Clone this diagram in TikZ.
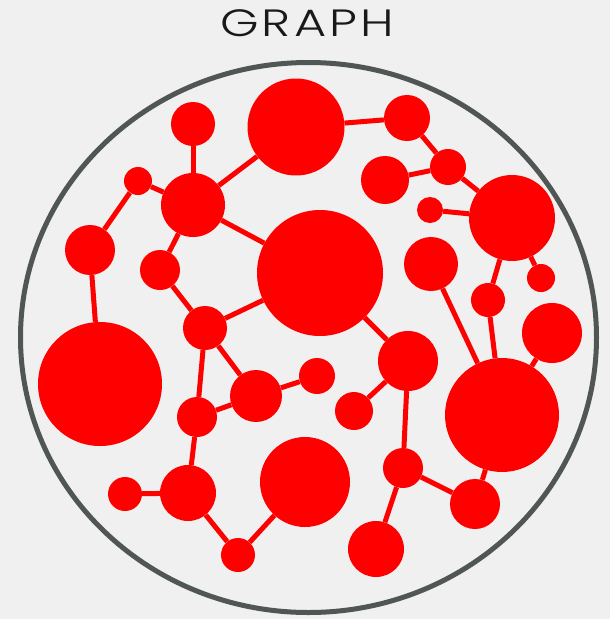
\documentclass[tikz,border=0pt]{standalone}
\usepackage{fontspec}
\newfontfamily\titlefont{Poppins Light}[LetterSpace=8,FakeStretch=1.3]
\definecolor{bg}{HTML}{F0F0F0}
\definecolor{rim}{HTML}{505654}
\definecolor{dotred}{HTML}{FF0000}
\tikzset{
  dot/.style={circle, fill=dotred, draw=none, inner sep=0pt},
  link/.style={draw=dotred, line width=5pt},
}
\begin{document}
\begin{tikzpicture}[x=1pt,y=-1pt]
\fill[bg] (0,0) rectangle (610,619);
\useasboundingbox (0,0) rectangle (610,619);
\node[font=\titlefont\fontsize{38}{40}\selectfont, text=black!90, inner sep=0pt] (title) at (307,23) {GRAPH};
\draw[rim, line width=5pt] (308.5,337.5) ellipse [x radius=288, y radius=275];
% nodes
\node[dot, minimum size=97pt] (n1) at (296,127) {};
\node[dot, minimum size=44pt] (n2) at (193,124) {};
\node[dot, minimum size=28pt] (n3) at (138,181) {};
\node[dot, minimum size=64pt] (n4) at (193,205) {};
\node[dot, minimum size=50pt] (n5) at (90,250) {};
\node[dot, minimum size=40pt] (n6) at (160,270) {};
\node[dot, minimum size=126pt] (n7) at (320,273) {};
\node[dot, minimum size=44pt] (n8) at (205,328) {};
\node[dot, minimum size=124pt] (n9) at (100,384) {};
\node[dot, minimum size=52pt] (n10) at (256,396) {};
\node[dot, minimum size=36pt] (n11) at (317,376) {};
\node[dot, minimum size=40pt] (n12) at (197,417) {};
\node[dot, minimum size=38pt] (n13) at (354,411) {};
\node[dot, minimum size=60pt] (n14) at (408,361) {};
\node[dot, minimum size=46pt] (n15) at (407,118) {};
\node[dot, minimum size=36pt] (n16) at (448,167) {};
\node[dot, minimum size=48pt] (n17) at (385,180) {};
\node[dot, minimum size=26pt] (n18) at (430,210) {};
\node[dot, minimum size=86pt] (n19) at (512,218) {};
\node[dot, minimum size=54pt] (n20) at (431,264) {};
\node[dot, minimum size=28pt] (n21) at (541,278) {};
\node[dot, minimum size=34pt] (n22) at (488,300) {};
\node[dot, minimum size=60pt] (n23) at (552,333) {};
\node[dot, minimum size=114pt] (n24) at (502,415) {};
\node[dot, minimum size=90pt] (n25) at (305,482) {};
\node[dot, minimum size=56pt] (n26) at (188,493) {};
\node[dot, minimum size=34pt] (n27) at (125,494) {};
\node[dot, minimum size=34pt] (n28) at (238,555) {};
\node[dot, minimum size=40pt] (n29) at (403,468) {};
\node[dot, minimum size=56pt] (n30) at (376,549) {};
\node[dot, minimum size=50pt] (n31) at (475,504) {};
% links
\foreach \a/\b in {n2/n4, n3/n4, n3/n5, n4/n1, n4/n6, n4/n7, n5/n9, n6/n8,
  n8/n7, n8/n12, n8/n10, n10/n11, n12/n10, n12/n26, n26/n27, n26/n28, n28/n25,
  n7/n14, n14/n13, n14/n29, n29/n30, n29/n31, n31/n24, n20/n24, n22/n24,
  n19/n22, n19/n21, n23/n24, n18/n19, n16/n19, n16/n17, n15/n16, n1/n15}
  \draw[link] (\a) -- (\b);
\end{tikzpicture}
\end{document}
